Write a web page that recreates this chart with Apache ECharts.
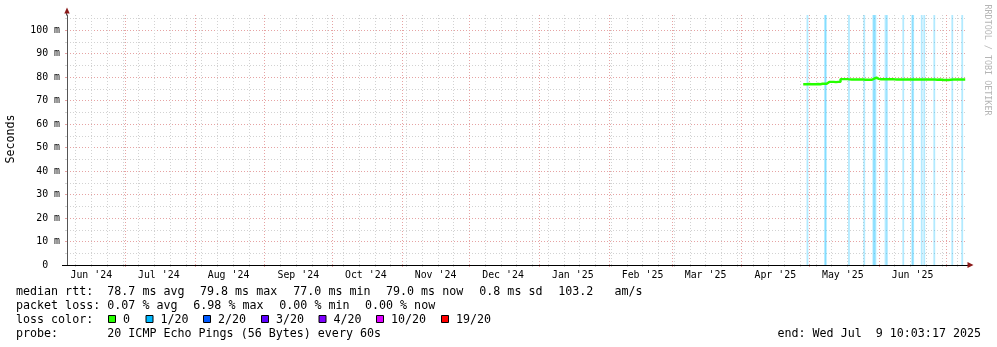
<!DOCTYPE html>
<html><head><meta charset="utf-8">
<script src="https://cdn.jsdelivr.net/npm/echarts@6/dist/echarts.min.js"></script>
<style>html,body{margin:0;padding:0;background:#fff}#c{width:997px;height:347px}</style>
</head><body><div id="c"></div>
<script>
// ---------------- data ----------------
const axisStart = '2024-06-05T05:00:00Z';
const axisEnd   = '2025-07-10T05:00:00Z';

const monthStarts = ['2024-07-01','2024-08-01','2024-09-01','2024-10-01','2024-11-01','2024-12-01',
  '2025-01-01','2025-02-01','2025-03-01','2025-04-01','2025-05-01','2025-06-01','2025-07-01'];
const monthLabelDates = ['2024-06-16','2024-07-16','2024-08-16','2024-09-16','2024-10-16','2024-11-16',
  '2024-12-16','2025-01-16','2025-02-16','2025-03-16','2025-04-16','2025-05-16','2025-06-16'];
const monthLabels = ["Jun '24","Jul '24","Aug '24","Sep '24","Oct '24","Nov '24","Dec '24",
  "Jan '25","Feb '25","Mar '25","Apr '25","May '25","Jun '25"];
const firstWeekLine = '2024-06-09';

const yMax = 106.5;
const yTickValues = [0,10,20,30,40,50,60,70,80,90,100];
const yTickLabels = ['0','10 m','20 m','30 m','40 m','50 m','60 m','70 m','80 m','90 m','100 m'];
const yMinorValues = [5,15,25,35,45,55,65,75,85,95,105];
const yMajorValues = [10,20,30,40,50,60,70,80,90,100];

// median RTT (ms), daily
const medianTimes = ['2025-04-28T10:00','2025-04-29','2025-04-30','2025-05-01','2025-05-02','2025-05-03','2025-05-04',
 '2025-05-05','2025-05-06','2025-05-07','2025-05-08T20:00','2025-05-09','2025-05-10','2025-05-11','2025-05-12',
 '2025-05-13','2025-05-14','2025-05-15','2025-05-16','2025-05-17','2025-05-18','2025-05-19','2025-05-20',
 '2025-05-21','2025-05-22','2025-05-23','2025-05-24','2025-05-25','2025-05-26','2025-05-27','2025-05-28',
 '2025-05-29','2025-05-30','2025-05-31','2025-06-01','2025-06-02','2025-06-03','2025-06-04','2025-06-05',
 '2025-06-06','2025-06-07','2025-06-08','2025-06-09','2025-06-10','2025-06-11','2025-06-12','2025-06-13',
 '2025-06-14','2025-06-15','2025-06-16','2025-06-17','2025-06-18','2025-06-19','2025-06-20','2025-06-21',
 '2025-06-22','2025-06-23','2025-06-24','2025-06-25','2025-06-26','2025-06-27','2025-06-28','2025-06-29',
 '2025-06-30','2025-07-01','2025-07-02','2025-07-03','2025-07-04','2025-07-05','2025-07-06','2025-07-07',
 '2025-07-08','2025-07-09','2025-07-09T10:00'];
const medianValues = [77.0,77.0,77.1,77.0,77.0,77.0,77.1,
 77.0,77.2,77.2,78.0,78.0,78.0,78.0,77.9,
 78.0,78.0,79.2,79.2,79.2,79.1,79.0,79.0,
 79.0,79.0,79.0,79.1,78.9,78.9,78.9,78.9,
 79.4,79.8,79.3,79.1,79.1,79.1,79.1,79.1,
 79.1,79.1,79.0,79.0,79.0,79.0,79.0,79.0,
 79.0,79.0,79.1,79.0,79.0,79.0,79.0,79.1,
 79.0,79.0,79.0,79.0,78.9,79.0,78.9,78.8,
 78.8,78.8,78.9,79.0,79.0,79.0,79.0,79.0,
 79.0,79.0,79.0];

// packet-loss events (pings lost out of 20)
const lossTimes = ['2025-04-30T07:00','2025-05-08T02:00','2025-05-08T12:00','2025-05-18T18:00','2025-05-25T13:00',
 '2025-05-29T14:00','2025-05-30T00:00','2025-05-30T12:00','2025-06-04T00:00','2025-06-04T15:00','2025-06-11T21:00',
 '2025-06-15T21:00','2025-06-16T07:00','2025-06-20T02:00','2025-06-21T05:00','2025-06-25T16:00','2025-07-03T16:00',
 '2025-07-08T02:00'];
const lossCounts = [1,1,1,1,1,1,1,1,1,1,1,1,1,1,1,1,1,1];

const lossLegend = ['0','1/20','2/20','3/20','4/20','10/20','19/20'];
const lossColors = ['#26ff00','#00b8ff','#0059ff','#5e00ff','#7e00ff','#dd00ff','#ff0000'];
const lossLevels = [0,1,2,3,4,10,19];

const statsRtt = ['78.7 ms avg','79.8 ms max','77.0 ms min','79.0 ms now','0.8 ms sd','103.2   am/s'];
const statsLoss = ['0.07 % avg','6.98 % max','0.00 % min','0.00 % now'];
const probeText = '20 ICMP Echo Pings (56 Bytes) every 60s';
const endText = 'end: Wed Jul  9 10:03:17 2025';

// ---------------- build ----------------
const T = s => Date.parse(s.length === 10 ? s + 'T00:00:00Z' : (s.endsWith('Z') ? s : s + ':00Z'));
const xMin = T(axisStart), xMax = T(axisEnd);
const weekLines = [];
for (let t = T(firstWeekLine); t < xMax; t += 7 * 86400000) weekLines.push(t);
const monthLines = monthStarts.map(T);
const labelTimes = monthLabelDates.map(T);
const labelMap = new Map(labelTimes.map((t, i) => [t, monthLabels[i]]));
const yLabelMap = new Map(yTickValues.map((v, i) => [v, yTickLabels[i]]));

const MONO = '"DejaVu Sans Mono", monospace';
const GREY = '#d2d2d2', RED = '#e6a3a3';
const dot = [1, 2];

function lossColorFor(n) {
  let idx = 0;
  lossLevels.forEach((l, i) => { if (n >= l) idx = i; });
  return lossColors[idx];
}

const hidden = { axisLine:{show:false}, axisLabel:{show:false} };
const xCommon = { type:'value', min:xMin, max:xMax, position:'bottom', gridIndex:0, scale:true };
const yCommon = { type:'value', min:0, max:yMax, position:'left', gridIndex:0 };

const chart = echarts.init(document.getElementById('c'), null, {renderer:'canvas'});

const legendFont = '11.66px ' + MONO;
const graphics = [];
function txt(x, y, s) {
  graphics.push({ type:'text', x, y, silent:true,
    style:{ text:s, font:legendFont, fill:'#000', verticalAlign:'middle', align:'left' } });
}
const col2 = 107.3;
txt(16, 291.5, 'median rtt:');
const rttX = [107.3, 200, 293.3, 386, 479.3, 558.3];
statsRtt.forEach((s, i) => txt(rttX[i], 291.5, s));
txt(16, 305.5, 'packet loss:');
const lossX = [107.3, 193.3, 279.3, 365];
statsLoss.forEach((s, i) => txt(lossX[i], 305.5, s));
txt(16, 319.5, 'loss color:');
const boxX = [108, 145.5, 203, 261, 318.5, 376, 441];
lossLegend.forEach((s, i) => {
  graphics.push({ type:'rect', silent:true, shape:{x:boxX[i] + 0.5, y:315.5, width:7, height:7},
    style:{ fill:lossColors[i], stroke:'#000', lineWidth:1 } });
  txt(boxX[i] + 15, 319.5, s);
});
txt(16, 333.5, 'probe:');
txt(col2, 333.5, probeText);
graphics.push({ type:'text', x:981, y:333.5, silent:true,
  style:{ text:endText, font:legendFont, fill:'#000', verticalAlign:'middle', align:'right' } });
graphics.push({ type:'text', x:10.5, y:139, rotation:Math.PI/2, silent:true,
  style:{ text:'Seconds', font:legendFont, fill:'#000', verticalAlign:'middle', align:'center' } });
graphics.push({ type:'text', x:987.5, y:60, rotation:-Math.PI/2, silent:true,
  style:{ text:'RRDTOOL / TOBI OETIKER', font:'8.4px ' + MONO, fill:'#b5b5b5', verticalAlign:'middle', align:'center' } });
graphics.push({ type:'polygon', silent:true, z:100, shape:{points:[[67,7.5],[64.3,13.5],[69.7,13.5]]}, style:{fill:'#8b1a1a'} });
graphics.push({ type:'line', silent:true, z:99, shape:{x1:66.5,y1:13,x2:66.5,y2:15.5}, style:{stroke:'#555',lineWidth:1} });
graphics.push({ type:'polygon', silent:true, z:100, shape:{points:[[973.5,265],[967.5,262],[967.5,268]]}, style:{fill:'#8b1a1a'} });
graphics.push({ type:'line', silent:true, z:99, shape:{x1:62,y1:265.5,x2:968,y2:265.5}, style:{stroke:'#000',lineWidth:1} });

chart.setOption({
  animation:false,
  backgroundColor:'#fff',
  grid:{ left:67, right:30, top:15, bottom:82, outerBoundsMode:'none', containLabel:false },
  xAxis:[
    Object.assign({}, xCommon, {
      axisLine:{show:false},
      axisTick:{show:false, customValues:labelTimes},
      splitLine:{show:false},
      axisLabel:{ show:true, customValues:labelTimes, margin:5, color:'#000',
        fontFamily:'DejaVu Sans Mono', fontSize:9.9, hideOverlap:false,
        showMinLabel:true, showMaxLabel:true,
        formatter:v => labelMap.get(v) || '' }
    }),
    Object.assign({}, xCommon, hidden, {
      axisTick:{show:true, customValues:weekLines, length:2, lineStyle:{color:GREY}},
      splitLine:{show:true, lineStyle:{color:GREY, type:dot, width:1}}
    }),
    Object.assign({}, xCommon, hidden, {
      axisTick:{show:true, customValues:monthLines, length:2, lineStyle:{color:RED}},
      splitLine:{show:true, lineStyle:{color:RED, type:dot, width:1}}
    })
  ],
  yAxis:[
    Object.assign({}, yCommon, {
      axisLine:{show:true, lineStyle:{color:'#555', width:1}},
      axisTick:{show:false, customValues:yTickValues},
      splitLine:{show:false},
      axisLabel:{ show:true, customValues:yTickValues, margin:7, color:'#000',
        fontFamily:'DejaVu Sans Mono', fontSize:9.9,
        formatter:v => { const s = yLabelMap.get(v); return s === undefined ? '' : (s.indexOf('m') < 0 ? s + '  ' : s); } }
    }),
    Object.assign({}, yCommon, hidden, {
      axisTick:{show:true, customValues:yMinorValues, length:2, lineStyle:{color:GREY}},
      splitLine:{show:true, lineStyle:{color:GREY, type:dot, width:1}}
    }),
    Object.assign({}, yCommon, hidden, {
      axisTick:{show:true, customValues:yMajorValues, length:2, lineStyle:{color:RED}},
      splitLine:{show:true, lineStyle:{color:RED, type:dot, width:1}}
    })
  ],
  series:[
    { type:'bar', name:'loss', xAxisIndex:0, yAxisIndex:0, barWidth:1.8, silent:true, z:1,
      data: lossTimes.map((t, i) => ({ value:[T(t), yMax],
        itemStyle:{ color:lossColorFor(lossCounts[i]), opacity:0.3 } })) },
    { type:'line', name:'median', xAxisIndex:0, yAxisIndex:0, step:'end', symbol:'none', showSymbol:false,
      silent:true, z:3, connectNulls:false,
      lineStyle:{ color:lossColors[0], width:2.4 },
      data: medianTimes.map((t, i) => [T(t), medianValues[i]]) }
  ],
  graphic: graphics
});
</script></body></html>
